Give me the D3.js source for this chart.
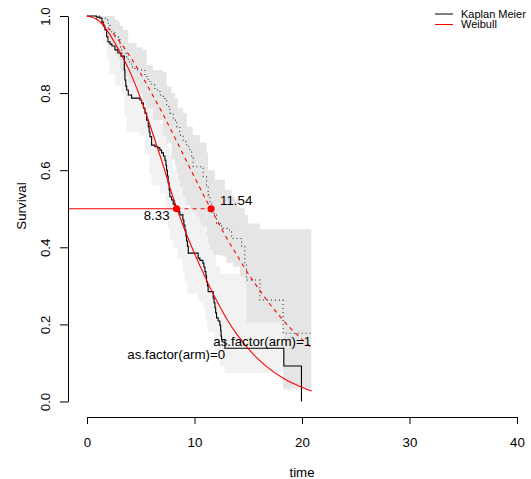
<!DOCTYPE html>
<html>
<head>
<meta charset="utf-8">
<script src="https://d3js.org/d3.v7.min.js"></script>
<style>
  body { margin: 0; background: #fff; }
  svg { font-family: "Liberation Sans", Arial, sans-serif; }
</style>
</head>
<body>
<div id="chart"></div>
<script>
// Kaplan-Meier, arm 0 (step times and survival)
const km0Time = [0, 0.9, 1.21, 1.39, 1.53, 1.67, 1.83, 1.95, 2.14, 2.32, 2.6, 2.88, 3.16, 3.47, 3.53, 3.61, 3.69, 3.84, 4.15, 4.93, 5.08, 5.25, 5.39, 5.55, 5.7, 5.78, 5.86, 6.01, 6.32, 6.6, 6.78, 6.94, 7.11, 7.25, 7.34, 7.4, 7.48, 7.55, 7.64, 7.71, 7.87, 8.02, 8.18, 8.41, 8.64, 8.92, 9.01, 9.11, 9.2, 9.27, 9.34, 9.42, 10.34, 10.5, 10.78, 10.87, 10.97, 11.06, 11.12, 11.2, 11.27, 11.74, 11.82, 11.9, 11.97, 12.05, 12.2, 12.36, 12.43, 12.47, 12.52, 12.83, 18.31, 19.95];
const km0Surv = [1, 0.997, 0.994, 0.984, 0.974, 0.964, 0.946, 0.933, 0.927, 0.922, 0.912, 0.904, 0.896, 0.86, 0.834, 0.818, 0.808, 0.795, 0.787, 0.782, 0.774, 0.761, 0.748, 0.73, 0.713, 0.699, 0.687, 0.665, 0.661, 0.658, 0.652, 0.645, 0.637, 0.626, 0.613, 0.6, 0.585, 0.567, 0.549, 0.531, 0.523, 0.512, 0.502, 0.493, 0.484, 0.471, 0.458, 0.445, 0.429, 0.416, 0.403, 0.385, 0.372, 0.366, 0.359, 0.349, 0.337, 0.326, 0.311, 0.3, 0.285, 0.268, 0.256, 0.243, 0.23, 0.217, 0.209, 0.198, 0.185, 0.17, 0.16, 0.138, 0.092, 0];

// Kaplan-Meier, arm 1
const km1Time = [0, 1.37, 1.83, 1.98, 2.14, 2.3, 2.6, 2.91, 3.07, 3.22, 3.69, 3.84, 4.15, 4.46, 5.39, 5.7, 6.01, 6.32, 6.78, 7.09, 7.25, 7.41, 7.71, 8.02, 8.34, 8.64, 8.95, 9.27, 9.57, 9.73, 9.88, 10.81, 11.12, 11.27, 11.43, 11.59, 12.05, 12.52, 13.13, 13.45, 14.38, 14.68, 14.84, 16.08, 18.24, 20.87];
const km1Surv = [1, 0.994, 0.99, 0.977, 0.959, 0.956, 0.946, 0.938, 0.92, 0.903, 0.894, 0.881, 0.868, 0.86, 0.843, 0.83, 0.821, 0.808, 0.795, 0.791, 0.782, 0.765, 0.748, 0.73, 0.713, 0.691, 0.674, 0.661, 0.652, 0.632, 0.609, 0.583, 0.557, 0.536, 0.514, 0.488, 0.462, 0.449, 0.445, 0.423, 0.402, 0.358, 0.315, 0.263, 0.177, 0.177];

// confidence bands (step start, lower, upper)
const band0Time  = [0, 0.9, 1.5, 1.83, 2.1, 2.6, 3.2, 3.5, 3.7, 4.9, 5.4, 5.8, 6.0, 6.8, 7.3, 7.5, 7.7, 8.0, 8.4, 8.9, 9.1, 9.3, 10.3, 10.8, 11.0, 11.2, 11.8, 12.0, 12.4, 12.8, 18.3, 19.95];
const band0Lower = [1, 0.98, 0.93, 0.89, 0.85, 0.82, 0.8, 0.74, 0.7, 0.69, 0.64, 0.59, 0.56, 0.54, 0.5, 0.45, 0.42, 0.4, 0.37, 0.34, 0.31, 0.28, 0.26, 0.24, 0.21, 0.18, 0.15, 0.13, 0.09, 0.074, 0.03, 0.03];
const band0Upper = [1, 1, 1, 0.99, 0.98, 0.97, 0.96, 0.92, 0.89, 0.86, 0.82, 0.77, 0.75, 0.72, 0.7, 0.66, 0.64, 0.6, 0.58, 0.55, 0.53, 0.5, 0.49, 0.47, 0.44, 0.41, 0.38, 0.35, 0.33, 0.33, 0.33, 0.33];

const band1Time  = [0, 1.37, 1.98, 2.14, 2.6, 2.9, 3.07, 3.35, 3.84, 4.62, 5.2, 5.55, 6.13, 7.06, 7.41, 7.87, 8.18, 8.34, 8.46, 8.64, 8.92, 9.27, 9.57, 9.85, 10.2, 10.5, 10.66, 11.12, 11.27, 11.43, 11.74, 11.9, 12.5, 12.83, 12.98, 13.45, 13.57, 13.75, 14.06, 14.22, 14.68, 14.84, 14.99, 16.08, 18.24, 20.87];
const band1Lower = [1, 0.98, 0.95, 0.93, 0.9, 0.886, 0.86, 0.843, 0.826, 0.8, 0.78, 0.76, 0.73, 0.69, 0.67, 0.63, 0.61, 0.593, 0.575, 0.557, 0.531, 0.51, 0.497, 0.49, 0.479, 0.465, 0.453, 0.427, 0.41, 0.393, 0.38, 0.38, 0.376, 0.376, 0.36, 0.36, 0.35, 0.35, 0.35, 0.324, 0.307, 0.205, 0.205, 0.205, 0.035, 0.035];
const band1Upper = [1, 1, 1, 1, 0.99, 0.985, 0.975, 0.964, 0.93, 0.918, 0.912, 0.873, 0.86, 0.855, 0.817, 0.8, 0.787, 0.787, 0.761, 0.761, 0.748, 0.713, 0.713, 0.691, 0.691, 0.671, 0.671, 0.645, 0.6, 0.6, 0.6, 0.575, 0.575, 0.549, 0.549, 0.531, 0.531, 0.523, 0.505, 0.501, 0.484, 0.484, 0.462, 0.447, 0.447, 0.447];

// Weibull fits
const wbTime = [0, 1, 2, 3, 4, 5, 6, 7, 8, 9, 10, 11, 12, 13, 14, 15, 16, 17, 18, 19, 20, 20.9];
const wb0Surv = [1, 0.99, 0.957, 0.91, 0.855, 0.785, 0.705, 0.62, 0.53, 0.452, 0.384, 0.322, 0.265, 0.214, 0.172, 0.137, 0.108, 0.084, 0.065, 0.049, 0.037, 0.027];
const wb1Surv = [1, 0.99, 0.968, 0.935, 0.895, 0.85, 0.8, 0.749, 0.694, 0.638, 0.582, 0.527, 0.475, 0.424, 0.377, 0.332, 0.291, 0.253, 0.219, 0.188, 0.161, 0.139];

const medians = [8.33, 11.54];
const medianLabels = ["8.33", "11.54"];
const armLabels = ["as.factor(arm)=0", "as.factor(arm)=1"];
const xTicks = [0, 10, 20, 30, 40];
const yTicks = [0, 0.2, 0.4, 0.6, 0.8, 1.0];
const legendNames = ["Kaplan Meier", "Weibull"];
const legendColors = ["#000", "#ff0000"];

const width = 531, height = 479;
const fontSize = "13.3px";

const svg = d3.select("#chart").append("svg")
    .attr("width", width)
    .attr("height", height);

const x = d3.scaleLinear().domain([0, 40]).range([87, 517]);
const y = d3.scaleLinear().domain([0, 1]).range([401.5, 16]);

function zip(t, s) { return t.map((d, i) => [d, s[i]]); }
function zip3(t, lo, hi) { return t.map((d, i) => [d, lo[i], hi[i]]); }

const band = d3.area()
    .curve(d3.curveStepAfter)
    .x(d => x(d[0]))
    .y0(d => y(d[1]))
    .y1(d => y(d[2]));

svg.append("path")
    .attr("d", band(zip3(band0Time, band0Lower, band0Upper)))
    .attr("fill", "#f2f2f2");

svg.append("path")
    .attr("d", band(zip3(band1Time, band1Lower, band1Upper)))
    .attr("fill", "#e5e5e5");

const step = d3.line()
    .curve(d3.curveStepAfter)
    .x(d => x(d[0]))
    .y(d => y(d[1]));

svg.append("path")
    .attr("d", step(zip(km0Time, km0Surv)))
    .attr("fill", "none")
    .attr("stroke", "#000")
    .attr("stroke-width", 1.1);

svg.append("path")
    .attr("d", step(zip(km1Time, km1Surv)))
    .attr("fill", "none")
    .attr("stroke", "#333")
    .attr("stroke-width", 1.1)
    .attr("stroke-dasharray", "1,3");

const smooth = d3.line()
    .curve(d3.curveMonotoneX)
    .x(d => x(d[0]))
    .y(d => y(d[1]));

svg.append("path")
    .attr("d", smooth(zip(wbTime, wb0Surv)))
    .attr("fill", "none")
    .attr("stroke", "#ff0000")
    .attr("stroke-width", 1.1);

svg.append("path")
    .attr("d", smooth(zip(wbTime, wb1Surv)))
    .attr("fill", "none")
    .attr("stroke", "#ff0000")
    .attr("stroke-width", 1.1)
    .attr("stroke-dasharray", "4,4");

// median lines
svg.append("line")
    .attr("x1", 68).attr("x2", x(medians[0]))
    .attr("y1", y(0.5)).attr("y2", y(0.5))
    .attr("stroke", "#ff0000")
    .attr("stroke-width", 1.1);

svg.append("line")
    .attr("x1", x(medians[0])).attr("x2", x(medians[1]))
    .attr("y1", y(0.5)).attr("y2", y(0.5))
    .attr("stroke", "#ff0000")
    .attr("stroke-width", 1.1)
    .attr("stroke-dasharray", "4,4");

svg.selectAll("circle.med")
  .data(medians)
  .join("circle")
    .attr("class", "med")
    .attr("cx", d => x(d))
    .attr("cy", y(0.5))
    .attr("r", 3.6)
    .attr("fill", "#ff0000");

svg.append("text")
    .attr("x", x(medians[0]) - 7)
    .attr("y", y(0.5) + 11)
    .attr("text-anchor", "end")
    .style("font-size", fontSize)
    .text(medianLabels[0]);

svg.append("text")
    .attr("x", x(medians[1]) + 9)
    .attr("y", y(0.5) - 4)
    .style("font-size", fontSize)
    .text(medianLabels[1]);

// curve labels
svg.append("text")
    .attr("x", x(8.3))
    .attr("y", y(0.11))
    .attr("text-anchor", "middle")
    .style("font-size", fontSize)
    .text(armLabels[0]);

svg.append("text")
    .attr("x", x(16.3))
    .attr("y", y(0.144))
    .attr("text-anchor", "middle")
    .style("font-size", fontSize)
    .text(armLabels[1]);

// axes
const xAxis = svg.append("g")
    .attr("transform", "translate(0,417)")
    .call(d3.axisBottom(x).tickValues(xTicks).tickSize(7).tickSizeOuter(0));
xAxis.selectAll("text")
    .attr("y", 30).attr("dy", 0)
    .attr("fill", "#000")
    .style("font-size", fontSize);

const yAxis = svg.append("g")
    .attr("transform", "translate(68,0)")
    .call(d3.axisLeft(y).tickValues(yTicks).tickFormat(d3.format(".1f")).tickSize(8).tickSizeOuter(0));
yAxis.selectAll("text")
    .attr("x", 0).attr("y", 0).attr("dy", 0)
    .attr("text-anchor", "middle")
    .attr("transform", "translate(-18,0) rotate(-90)")
    .attr("fill", "#000")
    .style("font-size", fontSize);

svg.selectAll(".domain, .tick line").attr("stroke", "#000");
svg.selectAll(".tick text").style("font-family", "\"Liberation Sans\", Arial, sans-serif");

svg.append("text")
    .attr("x", 302)
    .attr("y", 477)
    .attr("text-anchor", "middle")
    .style("font-size", fontSize)
    .text("time");

svg.append("text")
    .attr("transform", "translate(26,206) rotate(-90)")
    .attr("text-anchor", "middle")
    .style("font-size", fontSize)
    .text("Survival");

// legend
const legend = svg.append("g").attr("transform", "translate(435,14)");
legend.selectAll("line")
  .data(legendNames)
  .join("line")
    .attr("x1", 0).attr("x2", 18)
    .attr("y1", (d, i) => i * 10.5).attr("y2", (d, i) => i * 10.5)
    .attr("stroke", (d, i) => legendColors[i])
    .attr("stroke-width", 1);
legend.selectAll("text")
  .data(legendNames)
  .join("text")
    .attr("x", 26)
    .attr("y", (d, i) => i * 10.5 + 3.8)
    .style("font-size", "11px")
    .text(d => d);
</script>
</body>
</html>
